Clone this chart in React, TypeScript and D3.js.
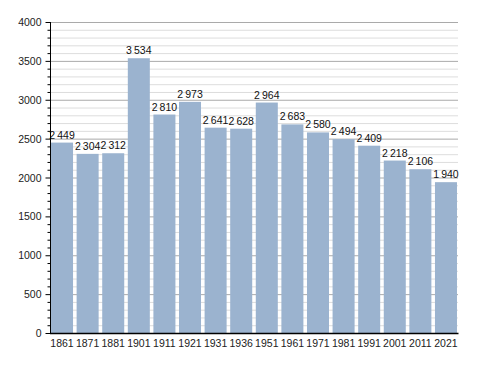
import React, { useEffect, useRef } from "react";
import * as d3 from "d3";

const years = ["1861", "1871", "1881", "1901", "1911", "1921", "1931", "1936", "1951", "1961", "1971", "1981", "1991", "2001", "2011", "2021"];
const population = [2449, 2304, 2312, 3534, 2810, 2973, 2641, 2628, 2964, 2683, 2580, 2494, 2409, 2218, 2106, 1940];
const majorTicks = [0, 500, 1000, 1500, 2000, 2500, 3000, 3500, 4000];

const width = 488, height = 373;
const left = 50, right = 458, top = 22, bottom = 333;

function fmt(v: number) {
    const s = String(v);
    return s.length > 3 ? s.slice(0, s.length - 3) + "\u2009" + s.slice(-3) : s;
}

export default function App() {
    const ref = useRef<SVGSVGElement>(null);

    useEffect(() => {
        const svg = d3.select(ref.current);
        svg.selectAll("*").remove();

        const x = d3.scaleBand().domain(years).range([left, right]).paddingInner(0.14).paddingOuter(0.04);
        const y = d3.scaleLinear().domain([0, 4000]).range([bottom, top]);

        const minor = d3.range(0, 4001, 100).filter(v => v % 500 !== 0);

        // grid
        svg.append("g").selectAll("line").data(minor).join("line")
            .attr("x1", left).attr("x2", right)
            .attr("y1", d => y(d) + 0.5).attr("y2", d => y(d) + 0.5)
            .attr("stroke", "#dddddd").attr("stroke-width", 1);
        svg.append("g").selectAll("line").data(majorTicks.slice(1)).join("line")
            .attr("x1", left).attr("x2", right)
            .attr("y1", d => y(d) + 0.5).attr("y2", d => y(d) + 0.5)
            .attr("stroke", "#aaaaaa").attr("stroke-width", 1);

        // bars
        svg.append("g").selectAll("rect").data(population).join("rect")
            .attr("x", (d, i) => x(years[i])!)
            .attr("width", x.bandwidth())
            .attr("y", d => y(d))
            .attr("height", d => bottom - y(d))
            .attr("fill", "#9bb3cf");

        // value labels
        svg.append("g").selectAll("text").data(population).join("text")
            .attr("x", (d, i) => x(years[i])! + x.bandwidth() / 2)
            .attr("y", d => y(d) - 4)
            .attr("text-anchor", "middle")
            .attr("font-family", "Liberation Sans, Arial, sans-serif")
            .attr("font-size", 10.5)
            .attr("fill", "#111")
            .text(d => fmt(d));

        // y axis
        const yAxis = svg.append("g").attr("transform", `translate(${left + 0.5},0)`);
        yAxis.append("line").attr("y1", top).attr("y2", bottom).attr("stroke", "#000");
        yAxis.selectAll(".minor").data(minor).join("line").attr("class", "minor")
            .attr("x1", -3).attr("x2", 0)
            .attr("y1", d => y(d) + 0.5).attr("y2", d => y(d) + 0.5)
            .attr("stroke", "#000");
        yAxis.selectAll(".major").data(majorTicks).join("line").attr("class", "major")
            .attr("x1", -5).attr("x2", 0)
            .attr("y1", d => y(d) + 0.5).attr("y2", d => y(d) + 0.5)
            .attr("stroke", "#000");
        yAxis.selectAll("text").data(majorTicks).join("text")
            .attr("x", -9).attr("y", d => y(d) + 4)
            .attr("text-anchor", "end")
            .attr("font-family", "Liberation Sans, Arial, sans-serif")
            .attr("font-size", 10.5)
            .attr("fill", "#222")
            .text(d => d);

        // x axis
        svg.append("line")
            .attr("x1", left).attr("x2", right + 0.5)
            .attr("y1", bottom + 0.5).attr("y2", bottom + 0.5)
            .attr("stroke", "#000").attr("stroke-width", 1.5);
        svg.append("g").selectAll("text").data(years).join("text")
            .attr("x", d => x(d)! + x.bandwidth() / 2)
            .attr("y", bottom + 14)
            .attr("text-anchor", "middle")
            .attr("font-family", "Liberation Sans, Arial, sans-serif")
            .attr("font-size", 10.5)
            .attr("fill", "#222")
            .text(d => d);
    }, []);

    return (
        <svg ref={ref} width={width} height={height} style={{ position: "absolute", left: 0, top: 0, background: "#fff" }}></svg>
    );
}
